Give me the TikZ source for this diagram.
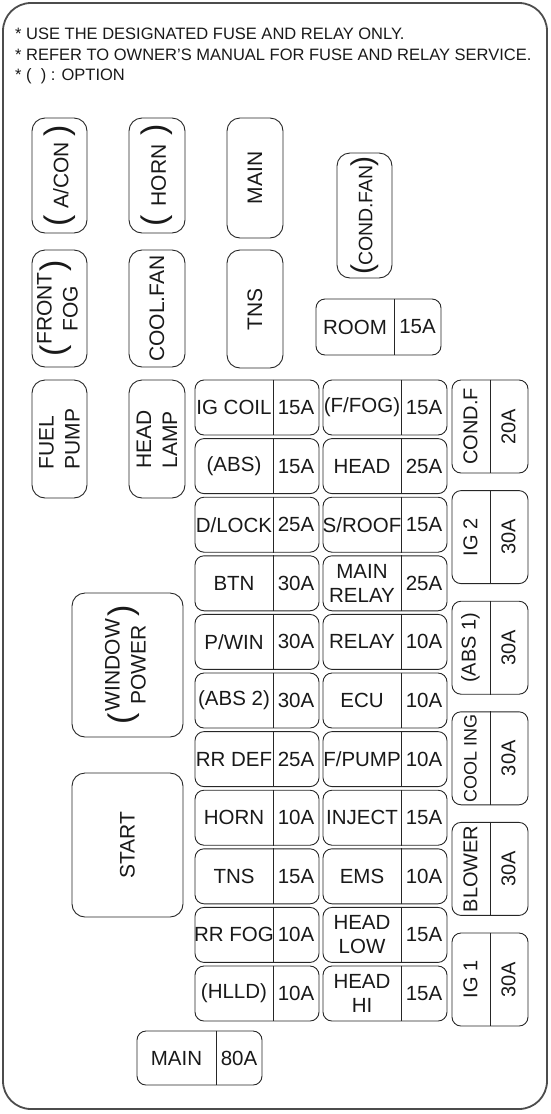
\documentclass[tikz,border=0pt]{standalone}
\usepackage{fontspec}
\setmainfont{Liberation Sans}
\newcommand\relpar[1]{{\fontsize{34}{34}\selectfont #1}}

\begin{document}
\begin{tikzpicture}[x=1pt,y=-1pt,
	box/.style={draw=black!85,line width=0.9pt,rounded corners=9pt,inner sep=0pt},
	relay/.style={box,rounded corners=13pt},
	divider/.style={draw=black!85,line width=0.9pt},
	txt/.style={inner sep=0pt,align=center,text=black!90,font=\fontsize{21}{26}\selectfont},
	ftxt/.style={txt,font=\fontsize{20.5}{24}\selectfont},
	note/.style={inner sep=0pt,anchor=base west,text=black!90,font=\fontsize{16.5}{20}\selectfont}]
	\useasboundingbox (0,0) rectangle (550,1114);
	\draw[line width=1.8pt,draw=black!70,rounded corners=28pt] (3,3) rectangle (547,1109);
	% notes
	\node[note] (note1) at (15,39) {* USE THE DESIGNATED FUSE AND RELAY ONLY.};
	\node[note] (note2) at (15,60) {* REFER TO OWNER'S MANUAL FOR FUSE AND RELAY SERVICE.};
	\node[note] (note3) at (15,80) {* (\ \ ) : OPTION};
	% relays
	\node[relay,minimum width=55,minimum height=115] (acon) at (59.5,175.5) {};
	\node[txt,rotate=90] (acon-t) at (acon.center) {\relpar(\hspace{6pt}A/CON\hspace{6pt}\relpar)};
	\node[relay,minimum width=56,minimum height=115] (horn) at (157,175.5) {};
	\node[txt,rotate=90] (horn-t) at (horn.center) {\relpar(\hspace{9pt}HORN\hspace{9pt}\relpar)};
	\node[relay,minimum width=56,minimum height=120] (main) at (255,178) {};
	\node[txt,rotate=90] (main-t) at (main.center) {MAIN};
	\node[relay,minimum width=55,minimum height=117] (ffog) at (59.5,308.5) {};
	\node[txt,rotate=90] (ffog-t) at (ffog.center) {\relpar(\hspace{1pt}\begin{tabular}{@{}c@{}}FRONT\\FOG\end{tabular}\hspace{1pt}\relpar)};
	\node[relay,minimum width=56,minimum height=117] (cfan) at (157,308.5) {};
	\node[txt,rotate=90] (cfan-t) at (cfan.center) {COOL.FAN};
	\node[relay,minimum width=56,minimum height=118] (tns) at (255,309) {};
	\node[txt,rotate=90] (tns-t) at (tns.center) {TNS};
	\node[relay,minimum width=55,minimum height=125] (cdfan) at (364.5,215.5) {};
	\node[txt,rotate=90] (cdfan-t) at (cdfan.center) {{\fontsize{30}{30}\selectfont(}\kern-1pt{\fontsize{19.5}{24}\selectfont COND.FAN}\kern-1pt{\fontsize{30}{30}\selectfont)}};
	\node[relay,minimum width=55,minimum height=118] (fpump) at (59.5,439) {};
	\node[txt,rotate=90,align=left] (fpump-t) at (fpump.center) {FUEL\\PUMP};
	\node[relay,minimum width=56,minimum height=118] (hlamp) at (157,439) {};
	\node[txt,rotate=90,align=left] (hlamp-t) at (hlamp.center) {HEAD\\LAMP};
	\node[relay,minimum width=111,minimum height=144] (wpow) at (127.5,665) {};
	\node[txt,rotate=90] (wpow-t) at (wpow.center) {\relpar(\hspace{2pt}\begin{tabular}{@{}c@{}}WINDOW\\POWER\end{tabular}\hspace{2pt}\relpar)};
	\node[relay,minimum width=111,minimum height=144] (start) at (127.5,845) {};
	\node[txt,rotate=90] (start-t) at (start.center) {START};
	% room and main fuse
	\node[box,minimum width=125,minimum height=56] (room) at (378.5,327) {};
	\draw[divider] ([xshift=15.5pt]room.north) -- ([xshift=15.5pt]room.south);
	\node[ftxt] (room-l) at ([xshift=-23.5pt]room.center) {ROOM};
	\node[ftxt] (room-r) at ([xshift=39pt]room.center) {15A};
	\node[box,minimum width=125,minimum height=54] (mfuse) at (199.5,1058) {};
	\draw[divider] ([xshift=16.5pt]mfuse.north) -- ([xshift=16.5pt]mfuse.south);
	\node[ftxt] (mfuse-l) at ([xshift=-23pt]mfuse.center) {MAIN};
	\node[ftxt] (mfuse-r) at ([xshift=39.5pt]mfuse.center) {80A};
	% fuse columns
	\foreach \lab/\amp [count=\i from 0] in {IG COIL/15A,(ABS)/15A,{D/LOCK}/25A,BTN/30A,{P/WIN}/30A,(ABS 2)/30A,RR DEF/25A,HORN/10A,TNS/15A,RR FOG/10A,(HLLD)/10A}
	{
		\node[box,minimum width=124,minimum height=55] (fa\i) at (257,{407.5+58.6*\i}) {};
		\draw[divider] ([xshift=16pt]fa\i.north) -- ([xshift=16pt]fa\i.south);
		\node[ftxt] (fa\i-l) at ([xshift=-23pt]fa\i.center) {\lab};
		\node[ftxt] (fa\i-r) at ([xshift=39pt]fa\i.center) {\amp};
	}
	\foreach \lab/\amp [count=\i from 0] in {{(F/FOG)}/15A,HEAD/25A,{S/ROOF}/15A,{MAIN\\RELAY}/25A,RELAY/10A,ECU/10A,{F/PUMP}/10A,INJECT/15A,EMS/10A,{HEAD\\LOW}/15A,{HEAD\\HI}/15A}
	{
		\node[box,minimum width=124,minimum height=55] (fb\i) at (385,{407.5+58.6*\i}) {};
		\draw[divider] ([xshift=16pt]fb\i.north) -- ([xshift=16pt]fb\i.south);
		\node[ftxt] (fb\i-l) at ([xshift=-23pt]fb\i.center) {\lab};
		\node[ftxt] (fb\i-r) at ([xshift=39pt]fb\i.center) {\amp};
	}
	\foreach \lab/\amp [count=\i from 0] in {COND.F/20A,IG 2/30A,(ABS 1)/30A,{{\fontsize{18}{22}\selectfont COOL ING}}/30A,BLOWER/30A,IG 1/30A}
	{
		\node[box,minimum width=76,minimum height=93] (fc\i) at (490,{426.5+110.6*\i}) {};
		\draw[divider] (fc\i.north) -- (fc\i.south);
		\node[txt,rotate=90,font=\fontsize{20}{24}\selectfont] (fc\i-l) at ([xshift=-19.5pt]fc\i.center) {\lab};
		\node[txt,rotate=90,font=\fontsize{20}{24}\selectfont] (fc\i-r) at ([xshift=18.5pt]fc\i.center) {\amp};
	}
\end{tikzpicture}
\end{document}
